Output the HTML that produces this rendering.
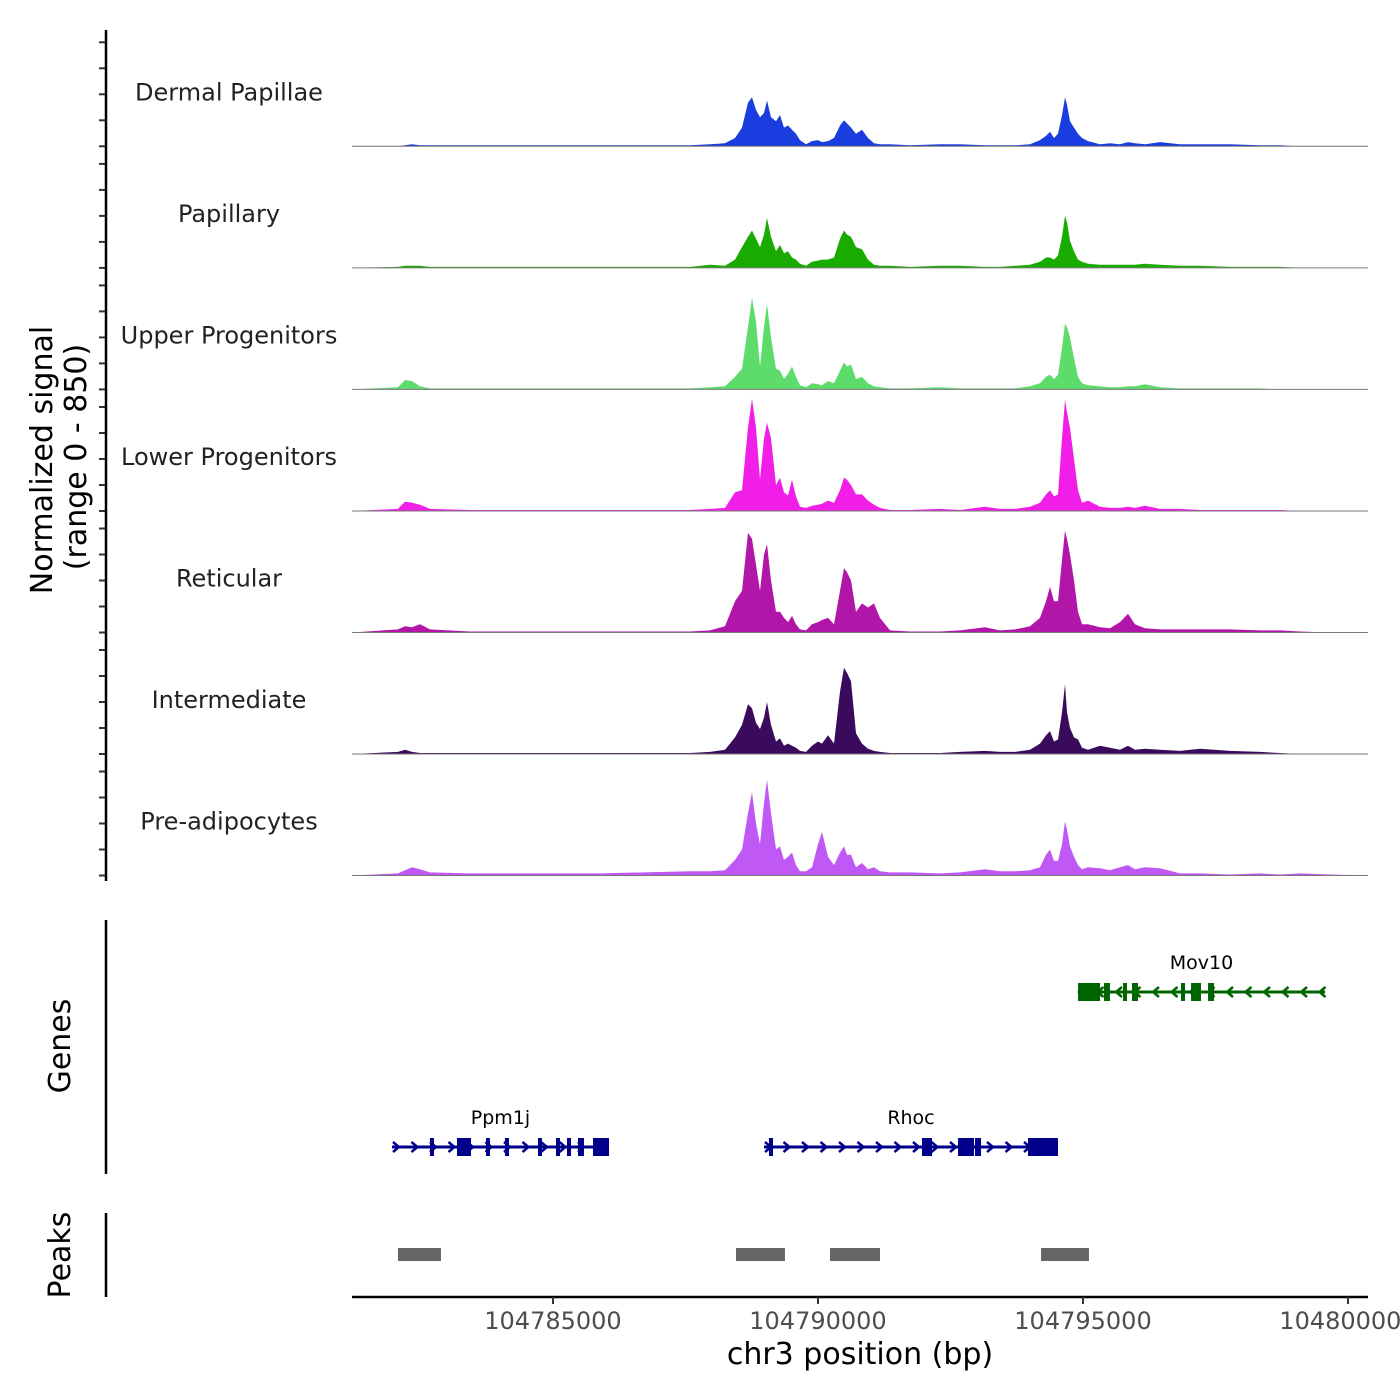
<!DOCTYPE html>
<html><head><meta charset="utf-8"><style>
html,body{margin:0;padding:0;background:#fff;}
svg{display:block;font-family:"DejaVu Sans","Liberation Sans",sans-serif;}
</style></head><body>
<svg id="chart" width="1400" height="1400" xmlns="http://www.w3.org/2000/svg"></svg>
<script>
// ---------- data ----------
const trackNames = ["Dermal Papillae","Papillary","Upper Progenitors","Lower Progenitors","Reticular","Intermediate","Pre-adipocytes"];
const trackColors = ["#1a3de0","#1aab00","#5ddc6c","#f01ee6","#b216a8","#3a0a5c","#c058f6"];
const positions = [104781208,104782075,104782208,104782340,104782491,104782679,104783434,104784755,104785887,104787585,104787962,104788245,104788434,104788566,104788679,104788755,104788830,104788906,104788981,104789038,104789113,104789208,104789283,104789358,104789434,104789509,104789585,104789660,104789774,104789887,104790000,104790075,104790189,104790302,104790415,104790491,104790547,104790623,104790717,104790830,104790943,104791057,104791170,104791358,104791736,104792302,104792679,104793151,104793434,104793717,104794000,104794189,104794302,104794377,104794453,104794528,104794604,104794660,104794698,104794755,104794830,104794906,104794981,104795094,104795321,104795509,104795698,104795849,104795981,104796170,104796453,104796830,104797208,104797774,104798340,104798717,104799094,104799660,104800377];
const sigDP = [0,0,8,16,8,8,8,8,8,8,16,24,64,144,336,376,280,224,256,352,224,192,240,144,160,128,96,48,16,40,48,32,40,64,160,200,176,144,96,128,64,24,16,16,8,16,16,8,8,8,16,48,80,112,64,96,240,376,320,192,144,96,64,40,16,24,16,32,24,16,32,16,16,16,8,8,0,0,0];
const sigPap = [0,8,16,16,16,8,8,8,8,8,24,16,64,160,240,288,224,160,256,384,240,128,176,112,128,80,64,32,16,48,56,64,64,80,224,288,256,240,160,144,64,24,16,16,8,16,16,8,8,16,24,48,80,80,64,96,240,400,352,208,128,64,48,32,24,24,24,24,24,32,24,16,16,8,8,8,0,0,0];
const sigUP = [0,16,72,64,24,8,8,8,8,8,16,24,96,160,480,704,520,176,480,656,400,160,144,80,120,176,96,32,16,48,40,32,64,48,144,208,176,192,80,96,48,24,16,8,8,16,8,8,8,8,24,48,96,112,80,112,320,504,480,400,240,96,48,32,24,16,16,24,24,40,16,8,8,8,8,0,0,0,0];
const sigLP = [0,16,72,64,48,16,8,8,8,8,16,24,144,160,640,864,640,240,560,680,560,200,256,144,120,240,112,32,24,40,48,56,80,64,160,256,240,200,128,128,80,48,24,8,8,16,8,32,16,16,32,64,128,160,112,128,560,856,760,640,400,160,64,80,32,24,24,32,24,40,16,16,8,8,8,8,0,0,0];
const sigRet = [0,24,48,40,64,24,8,8,8,8,16,48,240,320,768,720,520,320,600,680,400,160,160,112,80,128,64,24,16,64,80,96,112,64,320,496,464,400,160,224,192,224,112,16,8,8,16,40,16,24,48,112,240,352,240,240,560,784,720,600,400,160,64,64,40,32,80,144,64,32,24,24,24,24,16,16,8,0,0];
const sigInt = [0,16,32,16,8,8,8,8,8,8,16,32,128,224,384,352,240,192,280,400,224,96,120,64,80,64,48,24,16,64,96,80,144,80,480,664,624,560,160,80,40,24,16,8,8,8,16,24,16,16,32,80,144,176,96,112,320,536,320,200,128,112,48,32,64,48,32,64,32,40,32,24,40,24,16,8,0,0,0];
const sigPre = [0,16,40,64,48,24,16,16,16,32,32,40,120,200,480,640,400,240,560,736,480,200,224,120,144,176,80,32,32,64,240,336,144,80,176,224,160,160,64,96,48,64,32,24,24,16,24,48,32,32,40,64,160,200,112,112,240,416,352,224,144,80,48,64,56,40,64,80,48,64,56,16,16,8,16,8,16,8,0];
const signals = [sigDP,sigPap,sigUP,sigLP,sigRet,sigInt,sigPre];
const yTicks = [0,100,200,300,400,500,600,700,800];
const xTicks = [104785000,104790000,104795000,104800000];
const geneNames = ["Ppm1j","Rhoc","Mov10"];
const geneStarts = [104781962,104788981,104794906];
const geneEnds = [104786057,104794528,104799566];
const geneStrands = ["+","+","-"];
const geneRows = [1,1,0];
const geneExons = [
 [[104782679,104782755],[104783189,104783453],[104783736,104783811],[104784094,104784170],[104784717,104784792],[104785057,104785132],[104785264,104785340],[104785472,104785585],[104785755,104786057]],
 [[104789075,104789151],[104791962,104792151],[104792642,104792943],[104792962,104793076],[104793962,104794528]],
 [[104794906,104795321],[104795396,104795509],[104795755,104795830],[104795925,104796038],[104796849,104796925],[104797038,104797226],[104797359,104797472]]
];
const peakStarts = [104782075,104788453,104790226,104794208];
const peakEnds = [104782887,104789377,104791170,104795113];

// ---------- scales ----------
const NS="http://www.w3.org/2000/svg";
const svg=document.getElementById("chart");
const X0=352,X1=1368,D0=104781208,D1=104800377;
const xs=v=>X0+(v-D0)/(D1-D0)*(X1-X0);
const baselines=[146.3,267.9,389.4,511,632.5,754,875.5];
const ys=(v,b)=>b-v*0.13;
function mk(tag,attrs,parent){const e=document.createElementNS(NS,tag);for(const k in attrs)e.setAttribute(k,attrs[k]);(parent||svg).appendChild(e);return e;}
function txt(s,attrs,parent){const e=mk("text",attrs,parent);e.textContent=s;return e;}

// ---------- coverage tracks ----------
for(let t=0;t<signals.length;t++){
  const b=baselines[t];
  const g=mk("g",{});
  
  
  let d="M"+xs(positions[0])+","+b;
  for(let i=0;i<positions.length;i++){d+=" L"+xs(positions[i]).toFixed(1)+","+ys(signals[t][i],b).toFixed(1);}
  d+=" L"+xs(positions[positions.length-1])+","+b+" Z";
  const p=mk("path",{d:d,fill:trackColors[t]},g);
  
  
  const ln=mk("line",{x1:X0,x2:X1,y1:b,y2:b,stroke:"#777","stroke-width":1},g);
  
  
  const lb=txt(trackNames[t],{x:229,y:b-46,"text-anchor":"middle","font-size":24,fill:"#222"},g);
  
  
  for(const v of yTicks){
    if(v%200!==0)continue;
    const tk=mk("line",{x1:99,x2:106,y1:ys(v,b),y2:ys(v,b),stroke:"#333","stroke-width":2},g);
    
    
  }
}
</script>
<script>
// ---------- axes ----------
const yax=mk("line",{x1:106,x2:106,y1:30,y2:881,stroke:"#000","stroke-width":2.5});


const yt=txt("Normalized signal",{x:0,y:0,transform:"translate(52,460) rotate(-90)","text-anchor":"middle","font-size":30,fill:"#000"});


const yt2=txt("(range 0 - 850)",{x:0,y:0,transform:"translate(86,457) rotate(-90)","text-anchor":"middle","font-size":30,fill:"#000"});



// genes panel
const gax=mk("line",{x1:106,x2:106,y1:920,y2:1174,stroke:"#000","stroke-width":2.5});


const gt=txt("Genes",{x:0,y:0,transform:"translate(70,1046) rotate(-90)","text-anchor":"middle","font-size":30,fill:"#000"});


const rowY=[992,1147];
for(let i=0;i<geneNames.length;i++){
  const y=rowY[geneRows[i]];const col=geneStrands[i]==="+"?"#00008b":"#006400";
  const g=mk("g",{});
  
  
  const a=xs(geneStarts[i]),e=xs(geneEnds[i]);
  mk("line",{x1:a,x2:e,y1:y,y2:y,stroke:col,"stroke-width":3},g);
  for(let x=a+4;x<e-2;x+=18.5){
    const dir=geneStrands[i]==="+"?1:-1;
    mk("polyline",{points:(x-3*dir)+","+(y-5)+" "+(x+3*dir)+","+y+" "+(x-3*dir)+","+(y+5),fill:"none",stroke:col,"stroke-width":2.5},g);
  }
  for(const ex of geneExons[i]){
    mk("rect",{x:xs(ex[0]),y:y-9,width:Math.max(3,xs(ex[1])-xs(ex[0])),height:18,fill:col},g);
  }
  const lt=txt(geneNames[i],{x:(a+e)/2,y:y-23,"text-anchor":"middle","font-size":19,fill:"#000"},g);
  
  
}

// peaks panel
const pax=mk("line",{x1:106,x2:106,y1:1213,y2:1297,stroke:"#000","stroke-width":2.5});


const pt=txt("Peaks",{x:0,y:0,transform:"translate(70,1255) rotate(-90)","text-anchor":"middle","font-size":30,fill:"#000"});


for(let i=0;i<peakStarts.length;i++){
  const r=mk("rect",{x:xs(peakStarts[i]),y:1248,width:xs(peakEnds[i])-xs(peakStarts[i]),height:13,fill:"#666"});
  
  
}

// x axis
const xax=mk("line",{x1:X0,x2:X1,y1:1297,y2:1297,stroke:"#000","stroke-width":2.5});


for(const v of xTicks){
  const tk=mk("line",{x1:xs(v),x2:xs(v),y1:1297,y2:1304,stroke:"#333","stroke-width":2});
  
  
  const tl=txt(String(v),{x:xs(v),y:1329,"text-anchor":"middle","font-size":24,fill:"#4d4d4d"});
  
  
}
const xt=txt("chr3 position (bp)",{x:860,y:1364,"text-anchor":"middle","font-size":30,fill:"#000"});


</script>
</body></html>
